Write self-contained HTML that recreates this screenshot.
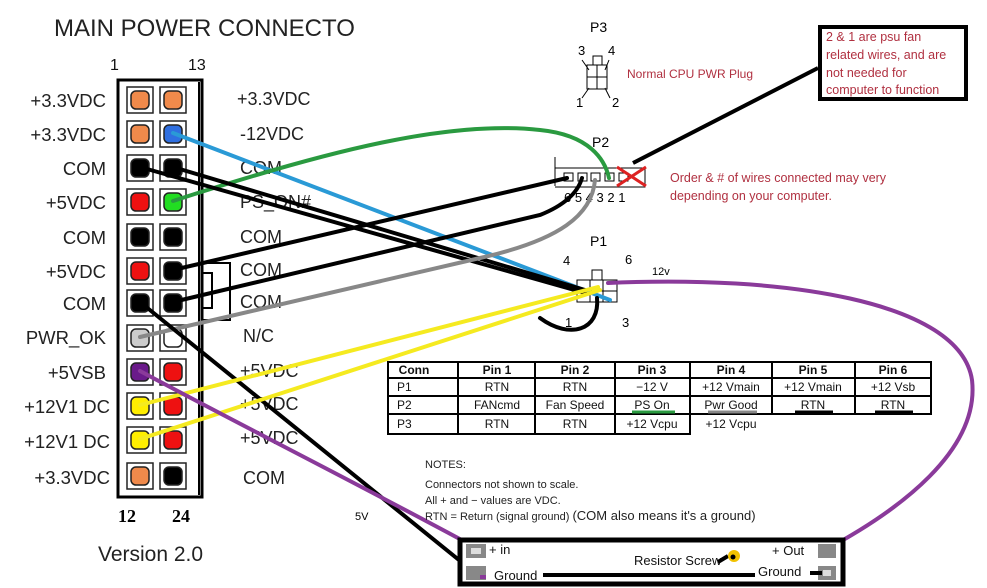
<!DOCTYPE html>
<html><head><meta charset="utf-8"><style>
html,body{margin:0;padding:0;background:#fff;}
svg{display:block;font-family:"Liberation Sans",sans-serif;}
</style></head><body>
<svg width="987" height="588" viewBox="0 0 987 588" xmlns="http://www.w3.org/2000/svg">
<rect width="987" height="588" fill="#fff"/>
<text x="54" y="36" font-size="24" fill="#222">MAIN POWER CONNECTO</text>
<text x="110" y="70" font-size="16" fill="#111">1</text>
<text x="188" y="70" font-size="16" fill="#111">13</text>
<rect x="118" y="80" width="84" height="417" fill="#fff" stroke="#000" stroke-width="3"/>
<line x1="199" y1="82" x2="199" y2="495" stroke="#000" stroke-width="2"/>
<path d="M202 263 H230 V320 H202 M202 273 H212 V308 H202" fill="none" stroke="#000" stroke-width="2"/>
<g stroke="#222" stroke-width="1.5">
<rect x="127" y="87" width="26" height="26" fill="#fff"/><rect x="131" y="91" width="18" height="18" rx="5" fill="#f08a4b"/>
<rect x="160" y="87" width="26" height="26" fill="#fff"/><rect x="164" y="91" width="18" height="18" rx="5" fill="#f08a4b"/>
<rect x="127" y="121" width="26" height="26" fill="#fff"/><rect x="131" y="125" width="18" height="18" rx="5" fill="#f08a4b"/>
<rect x="160" y="121" width="26" height="26" fill="#fff"/><rect x="164" y="125" width="18" height="18" rx="5" fill="#2f6fe0"/>
<rect x="127" y="155" width="26" height="26" fill="#fff"/><rect x="131" y="159" width="18" height="18" rx="5" fill="#000"/>
<rect x="160" y="155" width="26" height="26" fill="#fff"/><rect x="164" y="159" width="18" height="18" rx="5" fill="#000"/>
<rect x="127" y="189" width="26" height="26" fill="#fff"/><rect x="131" y="193" width="18" height="18" rx="5" fill="#ee1111"/>
<rect x="160" y="189" width="26" height="26" fill="#fff"/><rect x="164" y="193" width="18" height="18" rx="5" fill="#22dd22"/>
<rect x="127" y="224" width="26" height="26" fill="#fff"/><rect x="131" y="228" width="18" height="18" rx="5" fill="#000"/>
<rect x="160" y="224" width="26" height="26" fill="#fff"/><rect x="164" y="228" width="18" height="18" rx="5" fill="#000"/>
<rect x="127" y="258" width="26" height="26" fill="#fff"/><rect x="131" y="262" width="18" height="18" rx="5" fill="#ee1111"/>
<rect x="160" y="258" width="26" height="26" fill="#fff"/><rect x="164" y="262" width="18" height="18" rx="5" fill="#000"/>
<rect x="127" y="290" width="26" height="26" fill="#fff"/><rect x="131" y="294" width="18" height="18" rx="5" fill="#000"/>
<rect x="160" y="290" width="26" height="26" fill="#fff"/><rect x="164" y="294" width="18" height="18" rx="5" fill="#000"/>
<rect x="127" y="325" width="26" height="26" fill="#fff"/><rect x="131" y="329" width="18" height="18" rx="5" fill="#ccc"/>
<rect x="160" y="325" width="26" height="26" fill="#fff"/><rect x="164" y="329" width="18" height="18" rx="5" fill="#fff"/>
<rect x="127" y="359" width="26" height="26" fill="#fff"/><rect x="131" y="363" width="18" height="18" rx="5" fill="#6a1a8a"/>
<rect x="160" y="359" width="26" height="26" fill="#fff"/><rect x="164" y="363" width="18" height="18" rx="5" fill="#ee1111"/>
<rect x="127" y="393" width="26" height="26" fill="#fff"/><rect x="131" y="397" width="18" height="18" rx="5" fill="#ffee00"/>
<rect x="160" y="393" width="26" height="26" fill="#fff"/><rect x="164" y="397" width="18" height="18" rx="5" fill="#ee1111"/>
<rect x="127" y="427" width="26" height="26" fill="#fff"/><rect x="131" y="431" width="18" height="18" rx="5" fill="#ffee00"/>
<rect x="160" y="427" width="26" height="26" fill="#fff"/><rect x="164" y="431" width="18" height="18" rx="5" fill="#ee1111"/>
<rect x="127" y="463" width="26" height="26" fill="#fff"/><rect x="131" y="467" width="18" height="18" rx="5" fill="#f08a4b"/>
<rect x="160" y="463" width="26" height="26" fill="#fff"/><rect x="164" y="467" width="18" height="18" rx="5" fill="#000"/>
</g>
<g font-size="18.5" fill="#222" text-anchor="end">
<text x="106" y="107">+3.3VDC</text><text x="106" y="141">+3.3VDC</text>
<text x="106" y="175">COM</text><text x="106" y="209">+5VDC</text>
<text x="106" y="244">COM</text><text x="106" y="278">+5VDC</text>
<text x="106" y="310">COM</text><text x="106" y="344">PWR_OK</text>
<text x="106" y="379">+5VSB</text><text x="110" y="413">+12V1 DC</text>
<text x="110" y="448">+12V1 DC</text><text x="110" y="484">+3.3VDC</text>
</g>
<g font-size="18" fill="#222">
<text x="237" y="105">+3.3VDC</text><text x="240" y="140">-12VDC</text>
<text x="240" y="174">COM</text><text x="240" y="208">PS_ON#</text>
<text x="240" y="243">COM</text><text x="240" y="276">COM</text>
<text x="240" y="308">COM</text><text x="243" y="342">N/C</text>
<text x="240" y="377">+5VDC</text><text x="240" y="410">+5VDC</text>
<text x="240" y="444">+5VDC</text><text x="243" y="484">COM</text>
</g>
<text x="118" y="522" font-size="18" font-weight="bold" font-family="Liberation Serif,serif">12</text>
<text x="172" y="522" font-size="18" font-weight="bold" font-family="Liberation Serif,serif">24</text>
<text x="98" y="561" font-size="21" fill="#222">Version 2.0</text>

<text x="590" y="32" font-size="14">P3</text>
<text x="578" y="55" font-size="13">3</text><text x="608" y="55" font-size="13">4</text>
<text x="576" y="107" font-size="13">1</text><text x="612" y="107" font-size="13">2</text>
<g fill="#fff" stroke="#000" stroke-width="1"><rect x="593" y="56" width="9" height="9"/><rect x="587" y="65" width="10" height="12"/><rect x="597" y="65" width="10" height="12"/><rect x="587" y="77" width="10" height="12"/><rect x="597" y="77" width="10" height="12"/></g>
<path d="M582 60 L589 70 M609 60 L605 70 M582 98 L589 88 M610 98 L605 88" stroke="#000" stroke-width="1"/>
<text x="627" y="78" font-size="12" fill="#b03040">Normal CPU PWR Plug</text>
<rect x="820" y="27" width="146" height="72" fill="#fff" stroke="#000" stroke-width="4"/>
<g font-size="12.5" fill="#b03040"><text x="826" y="41">2 &amp; 1 are psu fan</text><text x="826" y="59">related wires, and are</text><text x="826" y="77">not needed for</text><text x="826" y="94">computer to function</text></g>
<line x1="818" y1="68" x2="633" y2="163" stroke="#000" stroke-width="4"/>
<text x="592" y="147" font-size="14">P2</text>
<path d="M555 157 V186 M555 168 H645 V187 H555" fill="none" stroke="#000" stroke-width="1"/>
<g fill="#fff" stroke="#000" stroke-width="1"><rect x="564" y="173" width="9" height="8"/><rect x="578" y="173" width="9" height="8"/><rect x="591" y="173" width="9" height="8"/><rect x="605" y="173" width="9" height="8"/><rect x="619" y="173" width="9" height="8"/></g>
<text x="564" y="202" font-size="13">6 5 4 3 2 1</text>
<path d="M617 167 L646 186 M617 186 L646 167" stroke="#dd2222" stroke-width="3"/>
<g font-size="12.5" fill="#b03040"><text x="670" y="182">Order &amp; # of wires connected may very</text><text x="670" y="200">depending on your computer.</text></g>
<text x="590" y="246" font-size="14">P1</text>
<text x="563" y="265" font-size="13">4</text><text x="625" y="264" font-size="13">6</text>
<text x="565" y="327" font-size="13">1</text><text x="622" y="327" font-size="13">3</text>
<g fill="#fff" stroke="#000" stroke-width="1"><rect x="592" y="270" width="10" height="10"/><rect x="577" y="280" width="13" height="11"/><rect x="590" y="280" width="13" height="11"/><rect x="603" y="280" width="14" height="11"/><rect x="577" y="291" width="13" height="11"/><rect x="590" y="291" width="13" height="11"/><rect x="603" y="291" width="14" height="11"/></g>
<text x="652" y="275" font-size="11">12v</text>
<g fill="none" stroke-linecap="round">
<path d="M173 133 L610 300" stroke="#2a9ad6" stroke-width="4"/>
<path d="M173 201 C330 150 450 120 540 130 C590 135 605 160 609 178" stroke="#2a9a40" stroke-width="4"/>
<path d="M173 167 L585 290" stroke="#000" stroke-width="4"/>
<path d="M140 167 L585 293" stroke="#000" stroke-width="4"/>
<path d="M173 270 L567 178" stroke="#000" stroke-width="4"/>
<path d="M173 302 L540 215 C565 205 578 192 582 178" stroke="#000" stroke-width="4"/>
<path d="M140 337 L480 258 C560 240 592 215 595 180" stroke="#888" stroke-width="4"/>
<path d="M140 302 L480 577" stroke="#000" stroke-width="4"/>
<path d="M140 405 L598 287" stroke="#f5ea20" stroke-width="4"/>
<path d="M140 439 L600 290" stroke="#f5ea20" stroke-width="4"/>
<path d="M140 371 C250 430 370 490 482 551" stroke="#8a3a9a" stroke-width="4"/>
<path d="M608 283 C780 275 960 300 972 380 C980 450 900 510 825 550" stroke="#8a3a9a" stroke-width="4"/>
<path d="M597 298 C600 330 570 340 540 318" stroke="#000" stroke-width="4"/>
</g>
<text x="355" y="520" font-size="11">5V</text>
<g stroke="#000" stroke-width="2" fill="none">
<path d="M388 362 H931 V414 H690 V434 H388 Z"/>
<path d="M388 378 H931 M388 396 H931 M388 414 H690"/>
<path d="M458 362 V434 M535 362 V434 M615 362 V434 M690 362 V434 M772 362 V414 M855 362 V414"/>
</g>
<g font-size="12" text-anchor="middle" fill="#111">
<g font-weight="bold"><text x="414" y="374">Conn</text><text x="497" y="374">Pin 1</text><text x="575" y="374">Pin 2</text><text x="652" y="374">Pin 3</text><text x="731" y="374">Pin 4</text><text x="813" y="374">Pin 5</text><text x="893" y="374">Pin 6</text></g>
<text x="397" y="391" text-anchor="start">P1</text><text x="497" y="391">RTN</text><text x="575" y="391">RTN</text><text x="652" y="391">−12 V</text><text x="731" y="391">+12 Vmain</text><text x="813" y="391">+12 Vmain</text><text x="893" y="391">+12 Vsb</text>
<text x="397" y="409" text-anchor="start">P2</text><text x="497" y="409">FANcmd</text><text x="575" y="409">Fan Speed</text><text x="652" y="409">PS On</text><text x="731" y="409">Pwr Good</text><text x="813" y="409">RTN</text><text x="893" y="409">RTN</text>
<text x="397" y="428" text-anchor="start">P3</text><text x="497" y="428">RTN</text><text x="575" y="428">RTN</text><text x="652" y="428">+12 Vcpu</text><text x="731" y="428">+12 Vcpu</text>
</g>
<path d="M632 412 H675" stroke="#2a9a40" stroke-width="3"/>
<path d="M708 412 H757" stroke="#888" stroke-width="3"/>
<path d="M795 412 H833 M875 412 H913" stroke="#000" stroke-width="3"/>
<g font-size="11" fill="#222"><text x="425" y="468">NOTES:</text><text x="425" y="488">Connectors not shown to scale.</text><text x="425" y="504">All + and − values are VDC.</text><text x="425" y="520">RTN = Return (signal ground) <tspan font-size="13">(COM also means it's a ground)</tspan></text></g>
<rect x="460" y="540" width="383" height="44" fill="#fff" stroke="#000" stroke-width="5"/>
<g fill="#888"><rect x="466" y="544" width="20" height="14"/><rect x="466" y="566" width="20" height="14"/><rect x="818" y="544" width="18" height="14"/><rect x="818" y="566" width="18" height="14"/></g>
<g fill="#ddd"><rect x="471" y="548" width="10" height="6"/><rect x="823" y="570" width="8" height="6"/></g>
<g font-size="13" fill="#111"><text x="489" y="554">+ in</text><text x="494" y="580">Ground</text><text x="634" y="565">Resistor Screw</text><text x="772" y="555">+ Out</text><text x="758" y="576">Ground</text></g>
<path d="M543 575 H755 M810 573 H822 M718 562 L728 556" stroke="#000" stroke-width="4"/>
<circle cx="734" cy="556" r="6" fill="#f2c200"/><circle cx="733" cy="557" r="2.5" fill="#000"/>
<path d="M480 577 L486 577" stroke="#8a3a9a" stroke-width="4"/>
</svg>
</body></html>
